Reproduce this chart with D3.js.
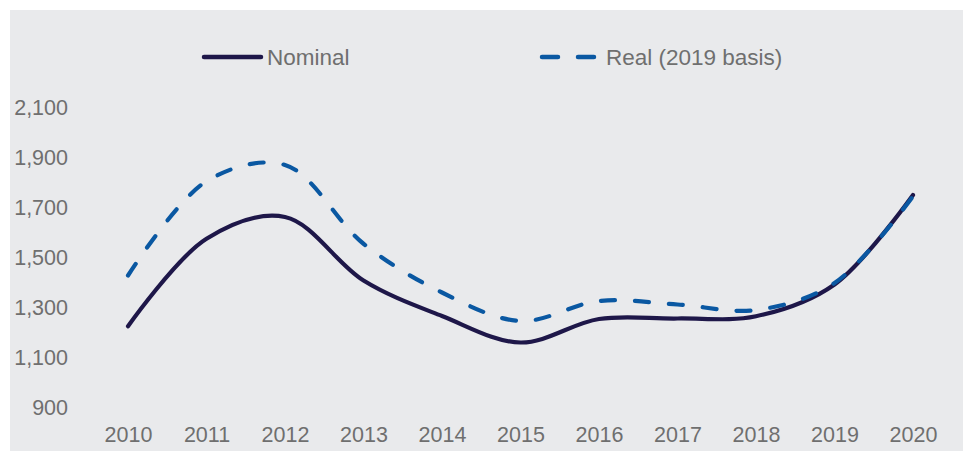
<!DOCTYPE html>
<html>
<head>
<meta charset="utf-8">
<script src="https://cdn.jsdelivr.net/npm/d3@7"></script>
<style>
  body { margin: 0; background: #fff; }
  svg { display: block; font-family: "Liberation Sans", Arial, sans-serif; }
  .axis text { fill: #6f6f6f; font-size: 21.5px; }
  .legend text { fill: #6f6f6f; font-size: 22.5px; }
</style>
</head>
<body>
<svg id="chart" width="963" height="451"></svg>
<script>
const years = [2010, 2011, 2012, 2013, 2014, 2015, 2016, 2017, 2018, 2019, 2020];
const nominal = [1225, 1575, 1662, 1408, 1266, 1160, 1254, 1256, 1265, 1392, 1750];
const real = [1428, 1805, 1870, 1555, 1360, 1246, 1326, 1312, 1290, 1398, 1745];
const yTicks = [900, 1100, 1300, 1500, 1700, 1900, 2100];
const seriesNames = ["Nominal", "Real (2019 basis)"];

const navy = "#1e1749", blue = "#0a58a2";

let svg = d3.select("#chart");

// panel background
svg.append("rect")
   .attr("x", 10).attr("y", 10)
   .attr("width", 953).attr("height", 441)
   .attr("fill", "#e9eaec");

let x = d3.scalePoint().domain(years).range([128, 913]);
let y = d3.scaleLinear().domain([900, 2100]).range([407.5, 107.5]);

// y axis
let yAxis = svg.append("g")
   .attr("class", "axis")
   .attr("transform", "translate(68,0)")
   .call(d3.axisLeft(y).tickValues(yTicks).tickSize(0).tickPadding(0)
          .tickFormat(d3.format(",")));
yAxis.select(".domain").remove();

// x axis
let xAxis = svg.append("g")
   .attr("class", "axis")
   .attr("transform", "translate(0,434)")
   .call(d3.axisBottom(x).tickSize(0).tickPadding(0));
xAxis.select(".domain").remove();
xAxis.selectAll("text").attr("dy", "0.35em");
xAxis.attr("font-family", null).attr("font-size", null);
yAxis.attr("font-family", null).attr("font-size", null);

let line = d3.line()
   .curve(d3.curveCatmullRom.alpha(0.5))
   .x((d, i) => x(years[i]))
   .y(d => y(d));

svg.append("path")
   .datum(nominal)
   .attr("fill", "none")
   .attr("stroke", navy)
   .attr("stroke-width", 4.2)
   .attr("stroke-linecap", "round")
   .attr("d", line);

// dashed real line drawn on top where the lines overlap
svg.append("path")
   .datum(real)
   .attr("fill", "none")
   .attr("stroke", blue)
   .attr("stroke-width", 4.2)
   .attr("stroke-linecap", "round")
   .attr("stroke-dasharray", "14,20")
   .attr("d", line);

// legend
let legend = svg.append("g").attr("class", "legend");
legend.append("line")
   .attr("x1", 204).attr("x2", 261).attr("y1", 57).attr("y2", 57)
   .attr("stroke", navy).attr("stroke-width", 4.5).attr("stroke-linecap", "round");
legend.append("text")
   .attr("x", 267).attr("y", 57).attr("dy", "0.35em")
   .text(seriesNames[0]);
legend.append("line")
   .attr("x1", 542).attr("x2", 598).attr("y1", 57).attr("y2", 57)
   .attr("stroke", blue).attr("stroke-width", 4.5).attr("stroke-linecap", "round")
   .attr("stroke-dasharray", "16,20");
legend.append("text")
   .attr("x", 606).attr("y", 57).attr("dy", "0.35em")
   .text(seriesNames[1]);
</script>
</body>
</html>
